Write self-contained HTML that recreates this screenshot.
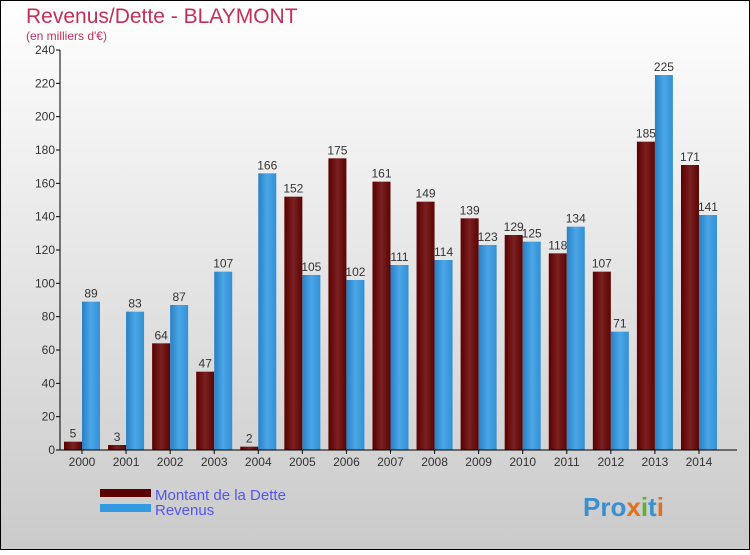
<!DOCTYPE html>
<html><head><meta charset="utf-8"><style>
body{margin:0}
svg text{font-family:"Liberation Sans",sans-serif}
</style></head><body>
<svg id="c" width="750" height="550" xmlns="http://www.w3.org/2000/svg">
<defs>
<linearGradient id="bg" x1="0" y1="0" x2="0" y2="1"><stop offset="0" stop-color="#ffffff"/><stop offset="1" stop-color="#cacaca"/></linearGradient>
<linearGradient id="gd" x1="0" y1="0" x2="1" y2="0"><stop offset="0" stop-color="#5a0000"/><stop offset="0.5" stop-color="#7a2020"/><stop offset="1" stop-color="#5a0505"/></linearGradient>
<linearGradient id="gr" x1="0" y1="0" x2="1" y2="0"><stop offset="0" stop-color="#2a80c4"/><stop offset="0.5" stop-color="#4aa6e6"/><stop offset="1" stop-color="#3390d4"/></linearGradient>
</defs>
<rect x="0.5" y="0.5" width="749" height="549" fill="url(#bg)" stroke="#000"/>
<text x="26" y="23" font-size="21" fill="#c0305a">Revenus/Dette - BLAYMONT</text>
<text x="26" y="40" font-size="12" fill="#c0305a">(en milliers d'€)</text>
<g id="plot"></g>
<g>
<rect x="100" y="489" width="51" height="8" fill="#5a0000"/>
<text x="155" y="500" font-size="15" fill="#5555ee">Montant de la Dette</text>
<rect x="100" y="504" width="51" height="8" fill="#3399e0"/>
<text x="155" y="515" font-size="15" fill="#5555ee">Revenus</text>
</g>
<text x="583" y="516" font-size="26" font-weight="bold" fill="#3a8fd0">Pro<tspan fill="#e07020">x</tspan><tspan fill="#60b030">i</tspan>t<tspan fill="#e07020">i</tspan></text>
</svg>
<script>
const years=["2000","2001","2002","2003","2004","2005","2006","2007","2008","2009","2010","2011","2012","2013","2014"];
const dette=[5,3,64,47,2,152,175,161,149,139,129,118,107,185,171];
const revenus=[89,83,87,107,166,105,102,111,114,123,125,134,71,225,141];
const yTicks=[0,20,40,60,80,100,120,140,160,180,200,220,240];
const NS="http://www.w3.org/2000/svg";
const g=document.getElementById('plot');
const x0=60,x1=737,y0=450,y1=50,yMax=240;
const bw=44.07;
function y(v){return y0-(v/yMax)*(y0-y1);}
function el(t,a,txt){const e=document.createElementNS(NS,t);for(const k in a)e.setAttribute(k,a[k]);if(txt!==undefined)e.textContent=txt;g.appendChild(e);return e;}
yTicks.forEach(t=>{
 const l=el('line',{x1:x0-4,x2:x0,y1:y(t),y2:y(t),stroke:'#000'});
 
 
 const tx=el('text',{x:x0-5,y:y(t)+4,'font-size':12,'text-anchor':'end',fill:'#333'},t);
 
 
});
years.forEach((yr,i)=>{
 const s=x0+i*bw;
 const d=el('rect',{x:s+4,y:y(dette[i]),width:18,height:y0-y(dette[i]),fill:'url(#gd)'});
 
 
 const r=el('rect',{x:s+22,y:y(revenus[i]),width:18,height:y0-y(revenus[i]),fill:'url(#gr)'});
 
 
 const dl=el('text',{x:s+13,y:y(dette[i])-4,'font-size':12,'text-anchor':'middle',fill:'#333'},dette[i]);
 
 
 const rl=el('text',{x:s+31,y:y(revenus[i])-4,'font-size':12,'text-anchor':'middle',fill:'#333'},revenus[i]);
 
 
 const tk=el('line',{x1:s+22,x2:s+22,y1:y0,y2:y0+4,stroke:'#000'});
 
 
 const xl=el('text',{x:s+22,y:y0+16,'font-size':12,'text-anchor':'middle',fill:'#333'},yr);
 
 
});
const ya=el('line',{x1:x0,x2:x0,y1:y1,y2:y0,stroke:'#000'});


const xa=el('line',{x1:x0,x2:x1,y1:y0,y2:y0,stroke:'#000'});


</script>
</body></html>
